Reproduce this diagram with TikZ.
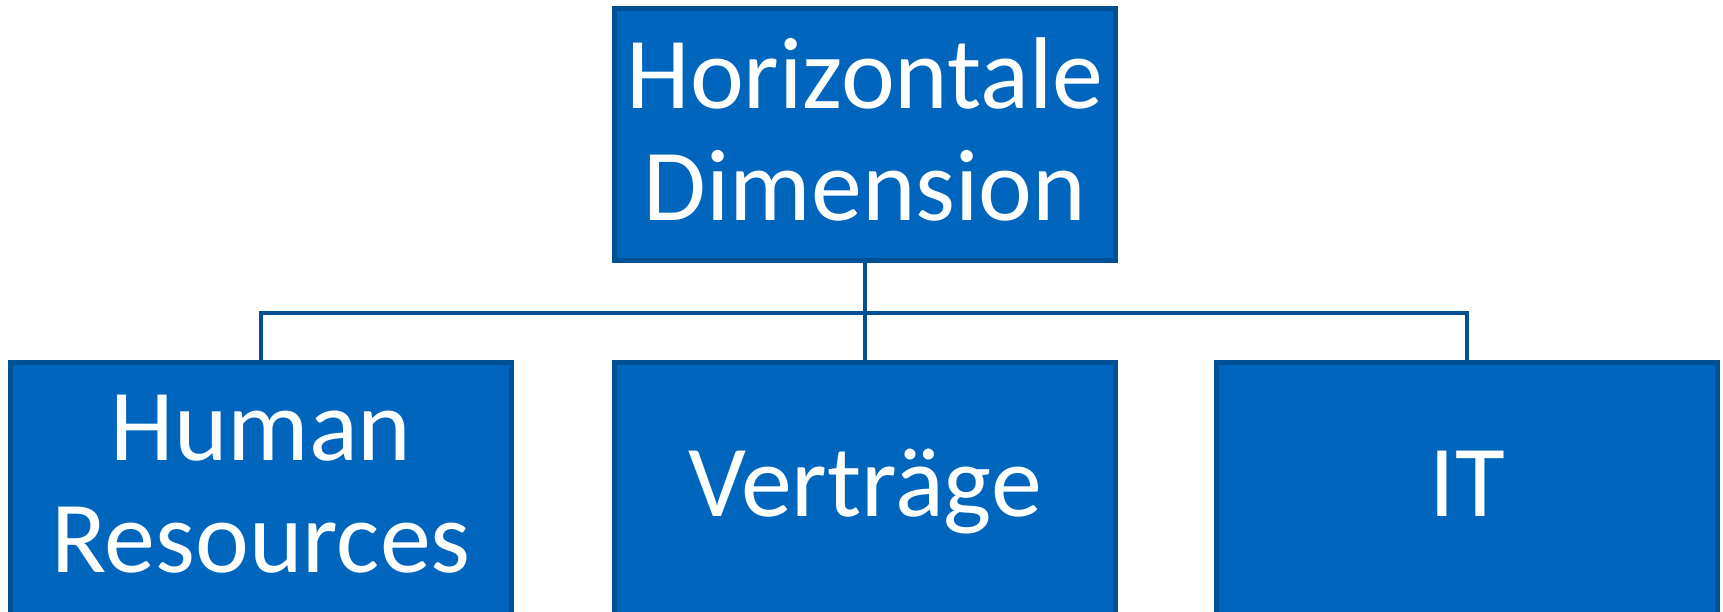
\documentclass[tikz,border=0pt]{standalone}
\usepackage{fontspec}
\setmainfont{Carlito}
\definecolor{boxfill}{RGB}{0,102,189}
\definecolor{boxline}{RGB}{0,80,150}
\newcommand{\lowdepth}{\rule[-3pt]{0pt}{0pt}}
\tikzset{%
  unit/.style  = {shape=rectangle, draw=boxline, fill=boxfill,%
                  line width=1.4pt, align=center, text=white,%
                  minimum width=5cm, inner sep=0pt,%
                  font=\fontsize{29}{32}\selectfont},%
  root/.style  = {unit, minimum height=2.51cm},%
  dept/.style  = {unit, minimum height=2.62cm},%
  bus/.style   = {draw=boxline, line width=1.4pt}%
}
\begin{document}
\begin{tikzpicture}[x=0.01cm,y=-0.01cm]
  \useasboundingbox (0,0) rectangle (1723,612);
  \clip (0,0) rectangle (1723,612);
  \node [root] (hd) at (865,134.5) {Horizontale\\Dimension\lowdepth};
  \node [dept] (hr) at (261,494) {\strut Human\\Resources\strut};
  \node [dept] (vt) at (865,494) {\strut Verträge};
  \node [dept] (it) at (1467,494) {\strut IT};
  \coordinate (knot) at (865,313);
  % connectors
  \draw [bus] (hd.south) -- (vt.north);
  \draw [bus] (hr.north) |- (knot) -| (it.north);
\end{tikzpicture}
\end{document}
